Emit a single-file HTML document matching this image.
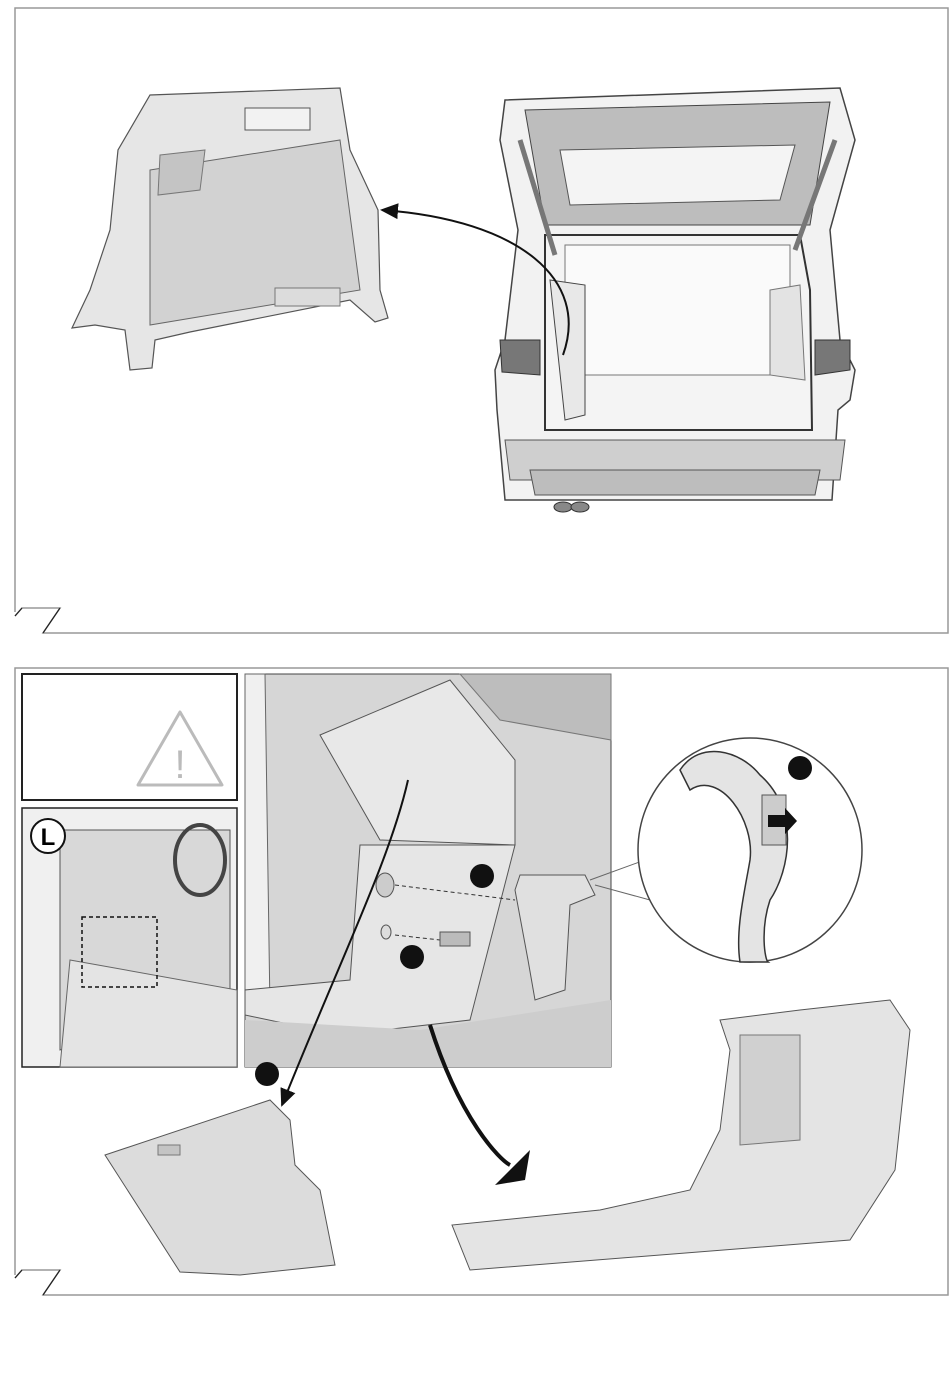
<!DOCTYPE html>
<html><head><meta charset="utf-8"><style>
html,body{margin:0;padding:0;background:#fff;}
svg{display:block;}
</style></head><body>
<svg width="950" height="1378" viewBox="0 0 950 1378" xmlns="http://www.w3.org/2000/svg" font-family="Liberation Sans, sans-serif">
<defs>
<marker id="ah" markerWidth="10" markerHeight="10" refX="8" refY="5" orient="auto"><path d="M0,1 L9,5 L0,9 z" fill="#111"/></marker>
</defs>
<!-- top frame -->
<path d="M15,612 L15,8 L948,8 L948,633 L43,633 L60,608 L22,608 L15,616" fill="none" stroke="#999" stroke-width="1.5"/>
<path d="M43,633 L60,608 M15,616 L22,608" stroke="#222" stroke-width="1.2"/>
<!-- trunk panel -->
<path d="M150,95 L340,88 L350,150 L378,210 L380,290 L388,318 L375,322 L350,300 L190,332 L155,340 L152,368 L130,370 L125,330 L95,325 L72,328 L90,290 L110,230 L118,150 Z" fill="#e6e6e6" stroke="#555" stroke-width="1.2"/>
<path d="M150,170 L340,140 L360,290 L150,325 Z" fill="#d2d2d2" stroke="#666"/>
<path d="M160,155 L205,150 L200,190 L158,195 Z" fill="#c4c4c4" stroke="#777"/>
<rect x="245" y="108" width="65" height="22" fill="#f2f2f2" stroke="#555"/>
<rect x="275" y="288" width="65" height="18" fill="#dcdcdc" stroke="#777"/>
<!-- car -->
<path d="M505,100 L840,88 L855,140 L830,230 L840,340 L855,370 L850,400 L838,410 L832,500 L505,500 L497,410 L495,370 L505,340 L518,230 L500,140 Z" fill="#f2f2f2" stroke="#444" stroke-width="1.5"/>
<path d="M525,110 L830,102 L810,225 L545,225 Z" fill="#bdbdbd" stroke="#444"/>
<path d="M560,150 L795,145 L780,200 L570,205 Z" fill="#f4f4f4" stroke="#555"/>
<path d="M545,235 L800,235 L810,290 L812,430 L545,430 Z" fill="#f4f4f4" stroke="#333" stroke-width="2"/>
<path d="M565,245 L790,245 L790,375 L565,375 Z" fill="#fafafa" stroke="#777"/>
<path d="M550,280 L585,285 L585,415 L565,420 Z" fill="#e8e8e8" stroke="#444"/>
<path d="M770,290 L800,285 L805,380 L770,375 Z" fill="#e3e3e3" stroke="#777"/>
<path d="M500,340 L540,340 L540,375 L502,372 Z" fill="#777" stroke="#333"/>
<path d="M815,340 L850,340 L850,370 L815,375 Z" fill="#777" stroke="#333"/>
<path d="M505,440 L845,440 L840,480 L510,480 Z" fill="#cfcfcf" stroke="#555"/>
<path d="M530,470 L820,470 L815,495 L535,495 Z" fill="#bdbdbd" stroke="#555"/>
<ellipse cx="563" cy="507" rx="9" ry="5" fill="#888" stroke="#333"/>
<ellipse cx="580" cy="507" rx="9" ry="5" fill="#888" stroke="#333"/>
<path d="M520,140 L555,255 M835,140 L795,250" stroke="#777" stroke-width="5"/>
<path d="M563,355 C590,280 520,220 382,210" fill="none" stroke="#111" stroke-width="2" marker-end="url(#ah)"/>
<!-- bottom frame -->
<path d="M15,1275 L15,668 L948,668 L948,1295 L43,1295 L60,1270 L22,1270 L15,1278" fill="none" stroke="#999" stroke-width="1.5"/>
<path d="M43,1295 L60,1270 M15,1278 L22,1270" stroke="#222" stroke-width="1.2"/>
<!-- warning box -->
<rect x="22" y="674" width="215" height="126" fill="#fff" stroke="#222" stroke-width="2"/>
<path d="M180,712 L222,785 L138,785 Z" fill="none" stroke="#bbb" stroke-width="3" stroke-linejoin="round"/>
<text x="180" y="778" font-size="40" fill="#bbb" text-anchor="middle">!</text>
<!-- interior -->
<rect x="22" y="808" width="215" height="259" fill="#f0f0f0" stroke="#222" stroke-width="1.5"/>
<path d="M60,830 L230,830 L230,1000 L60,1050 Z" fill="#d8d8d8" stroke="#555"/>
<ellipse cx="200" cy="860" rx="25" ry="35" fill="none" stroke="#444" stroke-width="4"/>
<path d="M70,960 L237,990 L237,1067 L60,1067 Z" fill="#e4e4e4" stroke="#666"/>
<rect x="82" y="917" width="75" height="70" fill="none" stroke="#111" stroke-width="1.5" stroke-dasharray="4,3"/>
<circle cx="48" cy="836" r="17" fill="#fff" stroke="#111" stroke-width="2"/>
<text x="48" y="845" font-size="24" font-weight="bold" text-anchor="middle">L</text>
<!-- middle image -->
<rect x="245" y="674" width="366" height="393" fill="#d6d6d6" stroke="#444"/>
<path d="M245,674 L265,674 L270,1010 L245,1015 Z" fill="#f0f0f0" stroke="#666"/>
<path d="M320,735 L450,680 L515,760 L515,845 L380,840 Z" fill="#e8e8e8" stroke="#555"/>
<path d="M460,674 L611,674 L611,740 L500,720 Z" fill="#bdbdbd" stroke="#777"/>
<path d="M360,845 L515,845 L470,1020 L340,1035 L245,1015 L245,990 L350,980 Z" fill="#e6e6e6" stroke="#555"/>
<path d="M245,1020 L420,1030 L611,1000 L611,1067 L245,1067 Z" fill="#cdcdcd"/>
<ellipse cx="385" cy="885" rx="9" ry="12" fill="#ccc" stroke="#555"/>
<ellipse cx="386" cy="932" rx="5" ry="7" fill="#ddd" stroke="#555"/>
<path d="M395,885 L515,900 M395,935 L440,940" stroke="#333" stroke-dasharray="4,3"/>
<rect x="440" y="932" width="30" height="14" fill="#bbb" stroke="#555"/>
<path d="M520,875 L585,875 L595,895 L570,905 L565,990 L535,1000 L528,960 L515,890 Z" fill="#e0e0e0" stroke="#555"/>
<circle cx="482" cy="876" r="12" fill="#111"/>
<circle cx="412" cy="957" r="12" fill="#111"/>
<path d="M408,780 C390,860 340,960 282,1105" fill="none" stroke="#111" stroke-width="2" marker-end="url(#ah)"/>
<circle cx="267" cy="1074" r="12" fill="#111"/>
<!-- zoom circle -->
<path d="M590,880 L645,860 M595,885 L650,900" stroke="#666"/>
<circle cx="750" cy="850" r="112" fill="#fff" stroke="#444" stroke-width="1.5"/>
<path d="M680,770 C700,740 740,750 760,775 C800,810 790,870 770,900 C760,930 765,960 768,962 L740,962 C735,930 745,890 750,860 C755,820 720,770 690,790 Z" fill="#e4e4e4" stroke="#333" stroke-width="1.5"/>
<rect x="762" y="795" width="24" height="50" fill="#ccc" stroke="#555"/>
<path d="M768,815 L785,815 L785,808 L797,821 L785,834 L785,827 L768,827 Z" fill="#111"/>
<circle cx="800" cy="768" r="12" fill="#111"/>
<!-- bottom pieces -->
<path d="M105,1155 L270,1100 L290,1120 L295,1165 L320,1190 L335,1265 L240,1275 L180,1272 Z" fill="#dcdcdc" stroke="#555"/>
<rect x="158" y="1145" width="22" height="10" fill="#c4c4c4" stroke="#777"/>
<path d="M430,1025 C460,1120 500,1160 510,1165" fill="none" stroke="#111" stroke-width="4"/>
<path d="M495,1185 L530,1150 L525,1180 Z" fill="#111"/>
<path d="M720,1020 L800,1010 L890,1000 L910,1030 L895,1170 L850,1240 L470,1270 L452,1225 L600,1210 L690,1190 L720,1130 L730,1050 Z" fill="#e4e4e4" stroke="#555"/>
<path d="M740,1035 L800,1035 L800,1140 L740,1145 Z" fill="#d0d0d0" stroke="#777"/>
</svg>
</body></html>
